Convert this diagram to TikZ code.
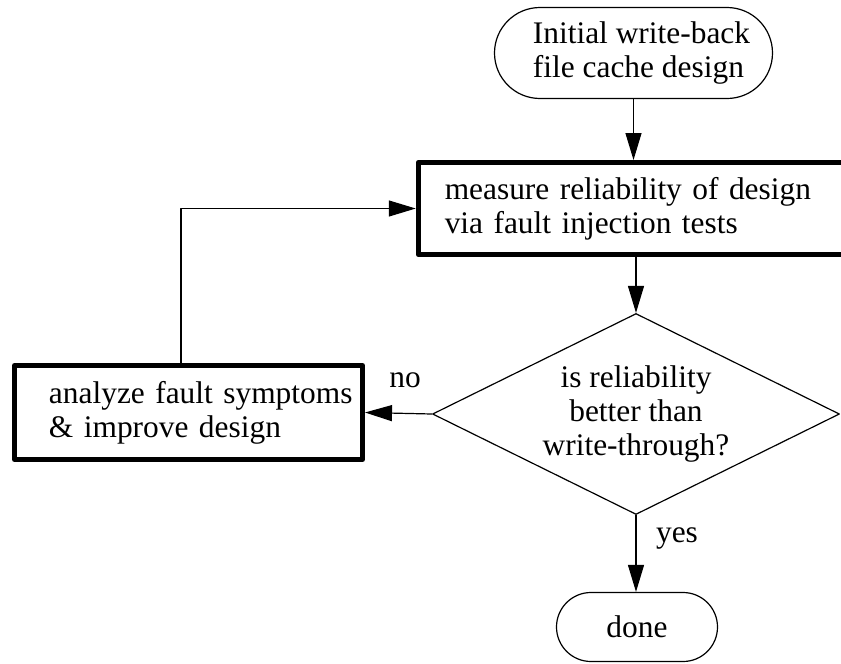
\documentclass[tikz,border=0pt]{standalone}
\usepackage{fontspec}
\setmainfont{Liberation Serif}
\usetikzlibrary{shapes.geometric,shapes.misc,arrows.meta}
\tikzset{
	terminal/.style={rounded rectangle, draw, line width=1.2pt, inner sep=0pt, align=left},
	stepbox/.style={rectangle, draw, line width=5pt, inner ysep=0pt, align=left},
	test/.style={diamond, draw, line width=1.2pt, aspect=2, inner sep=0pt, align=center},
	link/.style={->, line width=1.2pt}
}
\begin{document}
\begin{tikzpicture}[x=1pt, y=-1pt, font=\fontsize{31.4}{34}\selectfont, line join=round, >={Triangle[length=27pt,width=16pt]}]
	
	\useasboundingbox (0,0) rectangle (841,664);
	\clip (0,0) rectangle (841,664);
	
	\path 
		(633.5,53) coordinate (s)
		(634,208.5) coordinate (m)
		(188.5,412.5) coordinate (a)
		(636,414) coordinate (q)
		(637,627) coordinate (d)
	;
	
	\node[terminal, minimum width=278pt, minimum height=91pt] (start) at (s) {\hspace*{16pt}Initial write-back\\\hspace*{16pt}file cache design};
	\node[stepbox, minimum height=92pt, inner xsep=26.5pt, text width=378.5pt] (measure) at (m) {measure reliability of design\\via fault injection tests};
	\node[test, minimum width=407pt, minimum height=201pt] (better) at (q) {is reliability\\better than\\write-through?};
	\node[stepbox, minimum height=94pt, inner xsep=0pt, text width=348pt] (analyze) at (a) {\hspace*{34.5pt}analyze fault symptoms\\\hspace*{34.5pt}\& improve design};
	\node[terminal, minimum width=161pt, minimum height=69pt] (done) at (d) {done};
	
	\draw[link] (start.south) -- (start.south |- measure.north);
	\draw[link] (measure.south -| better.north) -- (better.north);
	\draw[link] (better.west) -- (analyze.east);
	\draw[link] ([xshift=-7.5pt]analyze.north) |- (measure.west);
	\draw[link] (better.south) -- (better.south |- done.north);
	
	\node (no) at (405,380) {no};
	\node (yes) at (677,538.5) {yes};
\end{tikzpicture}
\end{document}
